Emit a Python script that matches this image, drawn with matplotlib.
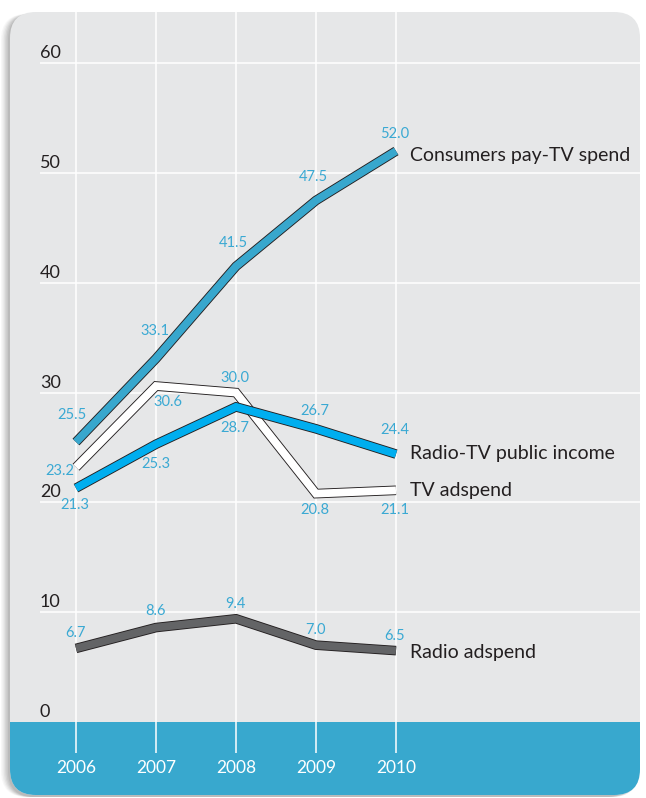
import numpy as np
import matplotlib
matplotlib.use("Agg")
import matplotlib.pyplot as plt
from matplotlib.patches import FancyBboxPatch, Rectangle
import matplotlib.patheffects as pe

plt.rcParams['font.family'] = ['Lato', 'DejaVu Sans']

# data
years = [2006, 2007, 2008, 2009, 2010]
pay_tv = [25.5, 33.1, 41.5, 47.5, 52.0]
tv_ad = [23.2, 30.6, 30.0, 20.8, 21.1]
public_inc = [21.3, 25.3, 28.7, 26.7, 24.4]
radio_ad = [6.7, 8.6, 9.4, 7.0, 6.5]
yticks = [0, 10, 20, 30, 40, 50, 60]
names = ["Consumers pay-TV spend", "TV adspend", "Radio-TV public income", "Radio adspend"]

# styles
W, H = 646, 798
gray_bg = '#e6e7e8'
band = '#38a8ce'
lab_col = '#3aa9d3'
ink = '#231f20'

# pixel mapping helpers (x0 = px of 2006, y0 = px of value 0)
x0, dxp = 76, 80.0
y0, ppu = 722, 10.98

fig = plt.figure(figsize=(W / 100, H / 100), dpi=100)
fig.patch.set_facecolor('white')

# background card in pixel coords
bg = fig.add_axes([0, 0, 1, 1])
bg.set_xlim(0, W)
bg.set_ylim(H, 0)
bg.axis('off')
for i, a in enumerate([0.05, 0.07, 0.09, 0.11, 0.13, 0.15]):
    off = 9 - i * 1.4
    sh = FancyBboxPatch((10 - off, 12 + 2), 630, 783, boxstyle="round,pad=0,rounding_size=26",
                        fc='#707070', ec='none', alpha=a)
    bg.add_patch(sh)
card = FancyBboxPatch((10, 12), 630, 783, boxstyle="round,pad=0,rounding_size=26",
                      fc=gray_bg, ec='none')
bg.add_patch(card)
strip = Rectangle((0, y0), W, H - y0, fc=band, ec='none')
bg.add_patch(strip)
strip.set_clip_path(card)

# data axes covering full figure
ax = fig.add_axes([0, 0, 1, 1])
ax.patch.set_alpha(0)
ax.axis('off')
ax.set_xlim(2006 - x0 / dxp, 2006 + (W - x0) / dxp)
ax.set_ylim((y0 - H) / ppu, y0 / ppu)

top_val = (y0 - 12) / ppu
ax.vlines(years, (y0 - 753) / ppu, top_val, color='white', lw=1.1, zorder=1)
x_left = 2006 - (x0 - 40) / dxp
x_right = 2006 + (640 - x0) / dxp
ax.hlines(yticks[1:], x_left, x_right, color='white', lw=1.1, zorder=1)

for v in yticks:
    ax.annotate(str(v), (x_left, v), xytext=(0, 2), textcoords='offset pixels',
                ha='left', va='bottom', fontsize=13, color=ink)
for yr in years:
    ax.text(yr, (y0 - 768) / ppu, str(yr), ha='center', va='center',
            fontsize=12.5, color='white')

series = [
    (tv_ad, 'white', [(-16, -4), (12, -16), (-1, 15), (-1, -16), (-1, -20)], (14, 0), names[1]),
    (pay_tv, '#38a7cd', [(-4, 27), (-1, 28), (-3, 23), (-3, 23), (-1, 17)], (14, -4), names[0]),
    (public_inc, '#00aeef', [(-1, -17), (0, -20), (-1, -21), (-1, 18), (-1, 24)], (14, 1), names[2]),
    (radio_ad, '#636466', [(-1, 15), (-1, 17), (-1, 15), (-1, 15), (-1, 15)], (14, -2), names[3]),
]

lw = 5.6
for vals, col, offs, loff, name in series:
    ax.plot(years, vals, color=col, lw=lw, solid_capstyle='butt', solid_joinstyle='miter', zorder=3,
            path_effects=[pe.Stroke(linewidth=lw + 1.3, foreground=ink), pe.Normal()])
    for yr, v, (dx, dy) in zip(years, vals, offs):
        ax.annotate(f"{v:.1f}", (yr, v), xytext=(dx, dy), textcoords='offset pixels',
                    ha='center', va='center', fontsize=10.5, color=lab_col, zorder=5)
    ax.annotate(name, (years[-1], vals[-1]), xytext=loff, textcoords='offset pixels',
                ha='left', va='center', fontsize=14, color=ink, zorder=5)

fig.savefig('out.png', dpi=100)
